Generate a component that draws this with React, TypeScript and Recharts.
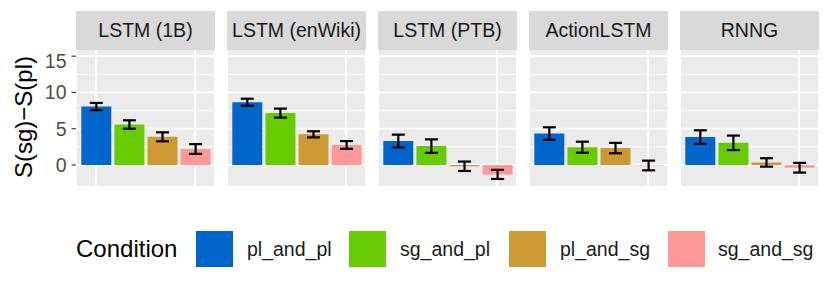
import React from 'react'
import { BarChart, Bar, Cell, ErrorBar, XAxis, YAxis, CartesianGrid } from 'recharts'

const models = ['LSTM (1B)', 'LSTM (enWiki)', 'LSTM (PTB)', 'ActionLSTM', 'RNNG']
const conditions = ['pl_and_pl', 'sg_and_pl', 'pl_and_sg', 'sg_and_sg']
const colors = ['#0066CC', '#66CC00', '#CC9933', '#FF9999']

// mean S(sg)-S(pl) per model, one array per condition
const plAndPl = [8.05, 8.65, 3.3, 4.33, 3.85]
const sgAndPl = [5.58, 7.15, 2.6, 2.45, 3.05]
const plAndSg = [3.88, 4.22, -0.18, 2.33, 0.35]
const sgAndSg = [2.2, 2.76, -1.3, -0.07, -0.38]

// half-width of the error bars
const plAndPlErr = [0.5, 0.48, 0.88, 0.86, 0.93]
const sgAndPlErr = [0.58, 0.62, 0.93, 0.76, 1.0]
const plAndSgErr = [0.62, 0.42, 0.65, 0.72, 0.58]
const sgAndSgErr = [0.67, 0.53, 0.63, 0.67, 0.67]

const yTicks = [0, 5, 10, 15]
const yMinor = [-2.5, 2.5, 7.5, 12.5]

const values = [plAndPl, sgAndPl, plAndSg, sgAndSg]
const errors = [plAndPlErr, sgAndPlErr, plAndSgErr, sgAndSgErr]

const FONT = '"Liberation Sans", Arial, Helvetica, sans-serif'
const PANEL_LEFT = [76, 227, 378, 529, 680]
const PANEL_W = 139
const AXIS_W = 76
const PLOT_TOP = 50
const PLOT_H = 136

function Panel({ index }: { index: number }) {
  const rows = conditions.map((c, j) => ({
    condition: c,
    value: values[j][index],
    err: errors[j][index],
  }))
  const first = index === 0
  return (
    <div style={{ position: 'absolute', left: first ? PANEL_LEFT[0] - AXIS_W : PANEL_LEFT[index], top: PLOT_TOP }}>
      <BarChart
        width={first ? PANEL_W + AXIS_W : PANEL_W}
        height={PLOT_H}
        data={rows}
        margin={{ top: 0, right: 0, bottom: 0, left: 0 }}
        barSize={30}
      >
        <CartesianGrid fill="#EBEBEB" stroke="#FFFFFF" strokeWidth={0.9} vertical={false} horizontalValues={yMinor} />
        <CartesianGrid stroke="#FFFFFF" strokeWidth={1.8} horizontalValues={yTicks} />
        <XAxis dataKey="condition" hide padding={{ left: 3.3, right: 3.3 }} />
        <YAxis
          type="number"
          domain={[-2.9, 15.85]}
          allowDataOverflow
          ticks={yTicks}
          hide={!first}
          width={AXIS_W}
          axisLine={false}
          tickSize={4.5}
          tickMargin={5}
          tickLine={{ stroke: '#333333', strokeWidth: 1.1 }}
          tick={{ fill: '#4D4D4D', fontSize: 19.5, fontFamily: FONT }}
        />
        <Bar dataKey="value" isAnimationActive={false}>
          {rows.map((r, j) => (
            <Cell key={r.condition} fill={colors[j]} />
          ))}
          <ErrorBar dataKey="err" width={6.5} strokeWidth={2.2} stroke="#000000" />
        </Bar>
      </BarChart>
    </div>
  )
}

export default function App() {
  return (
    <div style={{ position: 'relative', width: 830, height: 294, background: '#fff', fontFamily: FONT, margin: -8 }}>
      {models.map((m, i) => (
        <div
          key={m}
          style={{
            position: 'absolute',
            left: PANEL_LEFT[i],
            top: 11,
            width: PANEL_W,
            height: 39,
            background: '#D9D9D9',
            color: '#1A1A1A',
            fontSize: 19.5,
            lineHeight: '39px',
            textAlign: 'center',
            whiteSpace: 'nowrap',
          }}
        >
          {m}
        </div>
      ))}
      {models.map((m, i) => (
        <Panel key={m} index={i} />
      ))}
      <div
        style={{
          position: 'absolute',
          left: 24,
          top: 117,
          transform: 'translate(-50%, -50%) rotate(-90deg)',
          fontSize: 24,
          color: '#000',
          whiteSpace: 'nowrap',
        }}
      >
        S(sg)−S(pl)
      </div>
      <div style={{ position: 'absolute', left: 76, top: 249, transform: 'translateY(-50%)', fontSize: 24, color: '#000' }}>
        Condition
      </div>
      {conditions.map((c, j) => (
        <React.Fragment key={c}>
          <div
            style={{
              position: 'absolute',
              left: [196, 349, 509, 668][j],
              top: 231,
              width: 37,
              height: 36,
              background: colors[j],
            }}
          />
          <div
            style={{
              position: 'absolute',
              left: [247, 400, 560, 718][j],
              top: 249,
              transform: 'translateY(-50%)',
              fontSize: 19.5,
              color: '#1A1A1A',
              whiteSpace: 'nowrap',
            }}
          >
            {c}
          </div>
        </React.Fragment>
      ))}
    </div>
  )
}
